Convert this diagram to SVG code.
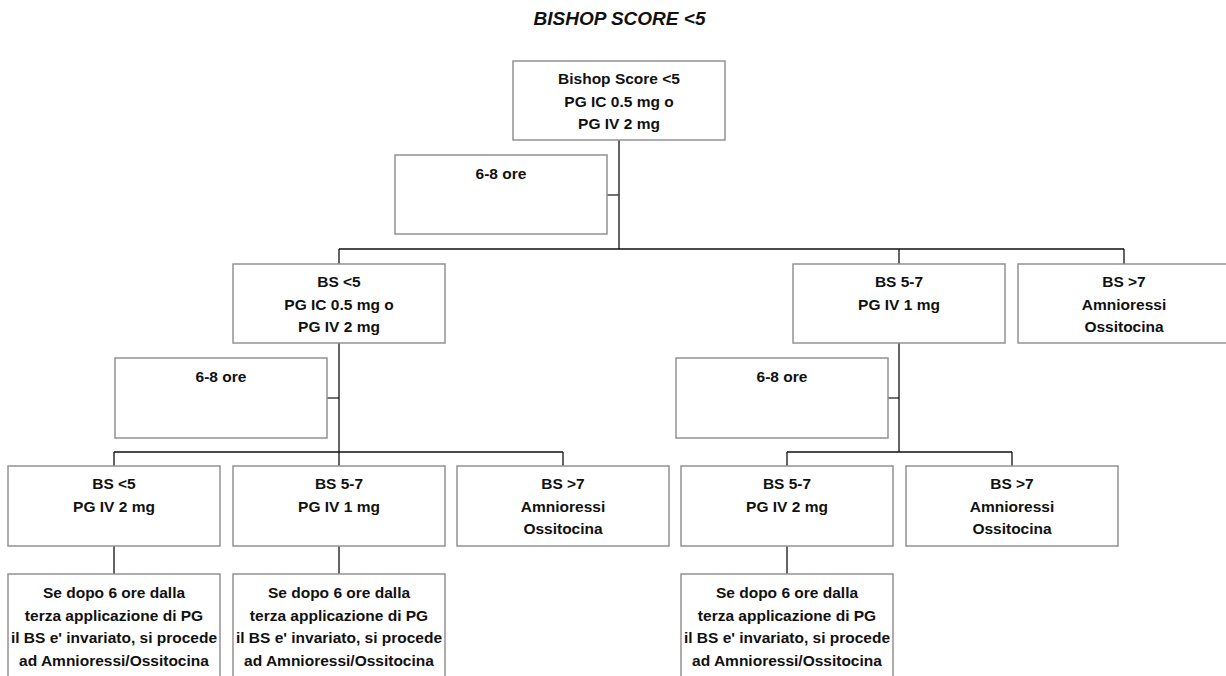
<svg xmlns="http://www.w3.org/2000/svg" width="1226" height="676" viewBox="0 0 1226 676">
<style>
.box{fill:#fff;stroke:#929292;stroke-width:1.5}
.t{font-family:"Liberation Sans",Arial,sans-serif;font-weight:bold;font-size:15.5px;fill:#111;text-anchor:middle}
.title{font-family:"Liberation Sans",Arial,sans-serif;font-weight:bold;font-style:italic;font-size:19px;fill:#111;text-anchor:middle}
.c{fill:none;stroke:#111;stroke-width:1.3}
.cs{fill:none;stroke:#444;stroke-width:1.3}
</style>
<rect width="1226" height="676" fill="#fff"/>
<text class="title" x="619.5" y="25">BISHOP SCORE &lt;5</text>
<g id="connectors">
<path class="c" d="M619 140V249M339 249H1124M339 249V264M899 249V264M1124 249V264"/>
<path class="cs" d="M607 195H619M327 398H339M888 398H899"/>
<path class="c" d="M339 343V466M114 452H563M114 452V466M563 452V466"/>
<path class="c" d="M899 343V452M787 452H1012M787 452V466M1012 452V466"/>
<path class="c" d="M114 546V574M339 546V574M787 546V574"/>
</g>
<g id="n_top"><rect class="box" x="513" y="61" width="212" height="79"/>
<text class="t" x="619" y="84">Bishop Score &lt;5</text><text class="t" x="619" y="106.5">PG IC 0.5 mg o</text><text class="t" x="619" y="129">PG IV 2 mg</text></g>
<g id="n_wait1"><rect class="box" x="395" y="155" width="212" height="79"/><text class="t" x="501" y="179">6-8 ore</text></g>
<g id="n_mid_lt5"><rect class="box" x="233" y="264" width="212" height="79"/>
<text class="t" x="339" y="287">BS &lt;5</text><text class="t" x="339" y="309.5">PG IC 0.5 mg o</text><text class="t" x="339" y="332">PG IV 2 mg</text></g>
<g id="n_mid_57"><rect class="box" x="793" y="264" width="212" height="79"/>
<text class="t" x="899" y="287">BS 5-7</text><text class="t" x="899" y="309.5">PG IV 1 mg</text></g>
<g id="n_mid_gt7"><rect class="box" x="1018" y="264" width="212" height="79"/>
<text class="t" x="1124" y="287">BS &gt;7</text><text class="t" x="1124" y="309.5">Amnioressi</text><text class="t" x="1124" y="332">Ossitocina</text></g>
<g id="n_wait2"><rect class="box" x="115" y="358" width="212" height="80"/><text class="t" x="221" y="382">6-8 ore</text></g>
<g id="n_wait3"><rect class="box" x="676" y="358" width="212" height="80"/><text class="t" x="782" y="382">6-8 ore</text></g>
<g id="n_b1"><rect class="box" x="8" y="466" width="212" height="80"/>
<text class="t" x="114" y="489">BS &lt;5</text><text class="t" x="114" y="511.5">PG IV 2 mg</text></g>
<g id="n_b2"><rect class="box" x="233" y="466" width="212" height="80"/>
<text class="t" x="339" y="489">BS 5-7</text><text class="t" x="339" y="511.5">PG IV 1 mg</text></g>
<g id="n_b3"><rect class="box" x="457" y="466" width="212" height="80"/>
<text class="t" x="563" y="489">BS &gt;7</text><text class="t" x="563" y="511.5">Amnioressi</text><text class="t" x="563" y="534">Ossitocina</text></g>
<g id="n_b4"><rect class="box" x="681" y="466" width="212" height="80"/>
<text class="t" x="787" y="489">BS 5-7</text><text class="t" x="787" y="511.5">PG IV 2 mg</text></g>
<g id="n_b5"><rect class="box" x="906" y="466" width="212" height="80"/>
<text class="t" x="1012" y="489">BS &gt;7</text><text class="t" x="1012" y="511.5">Amnioressi</text><text class="t" x="1012" y="534">Ossitocina</text></g>
<g id="n_f1"><rect class="box" x="8" y="574" width="212" height="120"/>
<text class="t" x="114" y="598">Se dopo 6 ore dalla</text><text class="t" x="114" y="620.5">terza applicazione di PG</text><text class="t" x="114" y="643">il BS e' invariato, si procede</text><text class="t" x="114" y="665.5">ad Amnioressi/Ossitocina</text></g>
<g id="n_f2"><rect class="box" x="233" y="574" width="212" height="120"/>
<text class="t" x="339" y="598">Se dopo 6 ore dalla</text><text class="t" x="339" y="620.5">terza applicazione di PG</text><text class="t" x="339" y="643">il BS e' invariato, si procede</text><text class="t" x="339" y="665.5">ad Amnioressi/Ossitocina</text></g>
<g id="n_f3"><rect class="box" x="681" y="574" width="212" height="120"/>
<text class="t" x="787" y="598">Se dopo 6 ore dalla</text><text class="t" x="787" y="620.5">terza applicazione di PG</text><text class="t" x="787" y="643">il BS e' invariato, si procede</text><text class="t" x="787" y="665.5">ad Amnioressi/Ossitocina</text></g>
</svg>
